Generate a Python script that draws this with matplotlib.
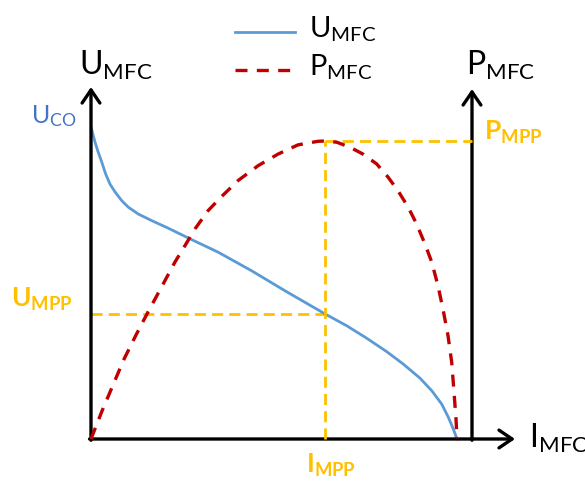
"""
Schematic MFC polarisation and power curves with the maximum power point.
"""

import matplotlib
matplotlib.use('Agg')
import matplotlib.pyplot as plt

plt.rcParams['font.family'] = ['Lato', 'DejaVu Sans']

# current, normalised to the short-circuit current
i_u = [0.0, 0.0063, 0.0109, 0.0183, 0.0292, 0.0402, 0.0519, 0.0656, 0.0839,
       0.1019, 0.1292, 0.1658, 0.2104, 0.2751, 0.3470, 0.4391, 0.5301, 0.6393,
       0.6986, 0.7533, 0.8079, 0.8533, 0.8989, 0.9309, 0.9582, 0.9762, 0.9899, 1.0]
# voltage, normalised to the open-circuit voltage U_CO
u_mfc = [1.0, 0.972, 0.952, 0.924, 0.888, 0.849, 0.817, 0.792, 0.764,
         0.743, 0.721, 0.700, 0.676, 0.639, 0.599, 0.539, 0.475, 0.401,
         0.363, 0.323, 0.280, 0.240, 0.195, 0.155, 0.112, 0.070, 0.032, 0.0]

i_p = [0.0, 0.0301, 0.0601, 0.0902, 0.1230, 0.1557, 0.1940, 0.2295, 0.2568,
       0.2842, 0.3197, 0.3571, 0.4016, 0.4563, 0.5109, 0.5656, 0.6202, 0.639,
       0.6713, 0.7077, 0.7432, 0.7806, 0.8115, 0.8388, 0.8661, 0.8899, 0.9126,
       0.9309, 0.9481, 0.9617, 0.9754, 0.9855, 0.9918, 0.9973, 1.0]
# power, normalised to P_MPP
p_mfc = [0.0, 0.094, 0.181, 0.268, 0.349, 0.426, 0.513, 0.594, 0.649,
         0.705, 0.766, 0.814, 0.867, 0.917, 0.956, 0.987, 0.999, 1.0,
         0.996, 0.979, 0.956, 0.923, 0.879, 0.833, 0.779, 0.721, 0.654,
         0.594, 0.514, 0.436, 0.347, 0.258, 0.158, 0.067, 0.0]

i_mpp = 0.639
u_mpp = 0.401
p_mpp = 1.0

BLUE = '#5B9BD5'
BLUE_TXT = '#4472C4'
RED = '#C00000'
GOLD = '#FFC000'

W, H = 585, 485
fig = plt.figure(figsize=(W / 100, H / 100), dpi=100)


def px(x, y):
    return x / W, 1 - y / H


ax = fig.add_axes([0, 0, 1, 1])
ax.set_xlim(-91 / 366, 494 / 366)
ax.set_ylim(-45 / 312, 440 / 312)
ax.axis('off')
axp = ax.twinx()
axp.set_ylim(-45 / 298, 440 / 298)
axp.axis('off')

x_right = (472 - 91) / 366

# axes drawn as arrows
arrow = dict(arrowstyle='->,head_length=0.47,head_width=0.32', lw=2.4,
             color='black', mutation_scale=20, shrinkA=0, shrinkB=0)
ax.annotate('', xy=(0, (440 - 88) / 312), xytext=(0, -0.004), arrowprops=arrow)
ax.annotate('', xy=((515 - 91) / 366, 0), xytext=(-0.004, 0), arrowprops=arrow)
ax.annotate('', xy=(x_right, (440 - 90) / 312), xytext=(x_right, -0.004), arrowprops=arrow)

# MPP guide lines
gold_kw = dict(color=GOLD, lw=2.0, dashes=(4, 2.2))
ax.plot([0, i_mpp], [u_mpp, u_mpp], **gold_kw)
axp.plot([i_mpp, i_mpp], [0, p_mpp], **gold_kw)
axp.plot([i_mpp, x_right], [p_mpp, p_mpp], **gold_kw)

# curves
ax.plot(i_u, u_mfc, color=BLUE, lw=2.0, solid_capstyle='round', solid_joinstyle='round')
axp.plot(i_p, p_mfc, color=RED, lw=2.4, dashes=(3.6, 2.8))

# legend, drawn by hand
fig.add_artist(plt.Line2D([235 / W, 295 / W], [1 - 33 / H] * 2, color=BLUE, lw=2.0))
fig.add_artist(plt.Line2D([235 / W, 295 / W], [1 - 71 / H] * 2, color=RED, lw=2.4,
                          dashes=(3.6, 2.8)))
fig.text(*px(309, 37), r'$\mathregular{U_{MFC}}$', fontsize=21, va='baseline')
fig.text(*px(309, 75), r'$\mathregular{P_{MFC}}$', fontsize=21, va='baseline')

# axis labels
fig.text(*px(79, 75), r'$\mathregular{U_{MFC}}$', fontsize=23, va='baseline')
fig.text(*px(466, 75), r'$\mathregular{P_{MFC}}$', fontsize=23, va='baseline')
fig.text(*px(529, 448), r'$\mathregular{I_{MFC}}$', fontsize=23, va='baseline')

# point labels
fig.text(*px(31, 123), r'$\mathregular{U_{CO}}$', fontsize=18, va='baseline',
         color=BLUE_TXT)
fig.text(*px(11, 307), r'$\mathregular{U_{MPP}}$', fontsize=19, va='baseline',
         color=GOLD, fontweight='bold')
fig.text(*px(484, 140), r'$\mathregular{P_{MPP}}$', fontsize=19, va='baseline',
         color=GOLD, fontweight='bold')
fig.text(*px(306, 473), r'$\mathregular{I_{MPP}}$', fontsize=19, va='baseline',
         color=GOLD, fontweight='bold')

fig.savefig('out.png', dpi=100)
